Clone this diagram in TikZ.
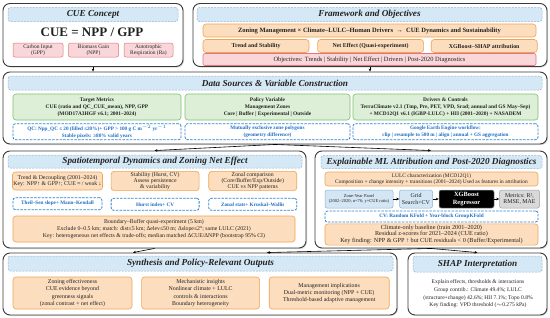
\documentclass[tikz,border=0pt]{standalone}
\usepackage{fontspec}
\setmainfont{Liberation Serif}
\usetikzlibrary{arrows.meta, positioning, shadows}

\definecolor{textdark}{HTML}{222222}
\definecolor{panelgray}{HTML}{3A3A3A}
\definecolor{titlefill}{HTML}{D5E8F5}
\definecolor{titleedge}{HTML}{8FB5D3}
\definecolor{pinkfill}{HTML}{F9D6D9}
\definecolor{pinkedge}{HTML}{E0767E}
\definecolor{orangefill}{HTML}{FCDDBD}
\definecolor{orangeedge}{HTML}{F0A456}
\definecolor{greenfill}{HTML}{DDEFD7}
\definecolor{greenedge}{HTML}{7DBF72}
\definecolor{qcedge}{HTML}{2F80D0}
\definecolor{qctext}{HTML}{1F6FC5}
\definecolor{zyfill}{HTML}{D4E6F4}
\definecolor{zyedge}{HTML}{8AB4D8}
\definecolor{metfill}{HTML}{D9D9D9}
\definecolor{metedge}{HTML}{A0A0A0}

\begin{document}
\begin{tikzpicture}[
  x=1pt, y=-1pt,
  every node/.style={font=\fontsize{5.6}{6.6}\selectfont, align=center, inner sep=1pt, text=textdark},
  panel/.style={rectangle, draw=panelgray, line width=0.9pt, rounded corners=7pt, fill=white,
    drop shadow={shadow xshift=1pt, shadow yshift=-1pt, opacity=0.3, fill=black!50}},
  titlebar/.style={rectangle, draw=titleedge, dash pattern=on 2pt off 1.2pt, line width=0.5pt, fill=titlefill,
    rounded corners=2.5pt, font=\bfseries\itshape\fontsize{9.2}{10}\selectfont},
  pinkbox/.style={rectangle, draw=pinkedge, line width=0.5pt, fill=pinkfill, rounded corners=2pt,
    minimum height=14, font=\fontsize{5.5}{6}\selectfont},
  objbox/.style={rectangle, draw=pinkedge, line width=0.6pt, fill=pinkfill, rounded corners=2pt,
    font=\fontsize{6.4}{7}\selectfont},
  orangebox/.style={rectangle, draw=orangeedge, line width=0.6pt, fill=orangefill, rounded corners=3pt},
  boldtxt/.style={font=\bfseries\fontsize{5.9}{6.6}\selectfont},
  greenbox/.style={rectangle, draw=greenedge, line width=0.6pt, fill=greenfill, rounded corners=3pt,
    minimum height=26, font=\bfseries\fontsize{5.4}{7}\selectfont},
  qcbox/.style={rectangle, draw=qcedge, dash pattern=on 2.5pt off 1.2pt, line width=0.8pt, fill=white,
    rounded corners=2.5pt, text=qctext, font=\bfseries\fontsize{5.2}{7}\selectfont},
  panelbox/.style={rectangle, draw=zyedge, line width=0.5pt, fill=zyfill, rounded corners=2pt, minimum height=18},
  xgbbox/.style={rectangle, draw=metedge, line width=0.5pt, fill=black, rounded corners=2pt, minimum height=18,
    text=white, font=\bfseries\fontsize{6.4}{7.4}\selectfont},
  metricbox/.style={rectangle, draw=metedge, line width=0.5pt, fill=metfill, rounded corners=2pt, minimum height=18,
    font=\fontsize{5.9}{6.8}\selectfont},
  arrow/.style={-{Stealth[length=3pt, width=2.6pt]}, line width=0.6pt}
]
\useasboundingbox (0,0) rectangle (550,317);

% CUE concept
\node[panel, minimum width=180, minimum height=63] (cue) at (93,35) {};
\node[titlebar, minimum width=170, minimum height=14] (cuetitle) at (93,14.5) {CUE Concept};
\node[font=\bfseries\fontsize{13}{14}\selectfont] (cueeq) at (92,32.5) {CUE = NPP / GPP};
\node[pinkbox, minimum width=50] (gpp) at (38,50) {Carbon Input\\(GPP)};
\node[pinkbox, minimum width=50, right=5pt of gpp] (npp) {Biomass Gain\\(NPP)};
\node[pinkbox, minimum width=49, right=5pt of npp] (ra) {Autotrophic\\Respiration (Ra)};

% Framework and objectives
\node[panel, minimum width=354, minimum height=63] (fw) at (370,35) {};
\node[titlebar, minimum width=345, minimum height=14] (fwtitle) at (369.5,14.5) {Framework and Objectives};
\node[orangebox, font=\bfseries\fontsize{6.5}{7}\selectfont, minimum width=333, minimum height=13] (fwmain) at (369.5,30.5)
  {Zoning Management × Climate–LULC–Human Drivers \ → \ CUE Dynamics and Sustainability};
\node[orangebox, boldtxt, minimum width=106, minimum height=13] (trendobj) at (256,46) {Trend and Stability};
\node[orangebox, boldtxt, minimum width=106, minimum height=13, right=8pt of trendobj] (netobj) {Net Effect (Quasi-experiment)};
\node[orangebox, boldtxt, minimum width=106, minimum height=13, right=7pt of netobj] (xaiobj) {XGBoost–SHAP attribution};
\node[objbox, minimum width=333, minimum height=12] (objs) at (369.5,59.5)
  {Objectives: Trends | Stability | Net Effect | Drivers | Post-2020 Diagnostics};

% Data sources
\node[panel, minimum width=544, minimum height=72] (data) at (275,108) {};
\node[titlebar, minimum width=534, minimum height=14] (datatitle) at (275,83) {Data Sources \& Variable Construction};
\node[greenbox, minimum width=168] (target) at (97,107)
  {Target Metrics\\CUE (ratio and QC\_CUE\_mean), NPP, GPP\\(MOD17A3HGF v6.1; 2001–2024)};
\node[greenbox, minimum width=165] (policy) at (267.5,107)
  {Policy Variable\\Management Zones\\Core | Buffer | Experimental | Outside};
\node[greenbox, minimum width=185] (drivers) at (445.5,107)
  {Drivers \& Controls\\TerraClimate v2.1 (Tmp, Pre, PET, VPD, Srad; annual and GS May–Sep)\\+ MCD12Q1 v6.1 (IGBP-LULC) + HII (2001–2020) + NASADEM};
\node[qcbox, minimum width=168, minimum height=16, below=3pt of target] (qc)
  {QC: Npp\_QC ≤ 20 (filled ≤20\%)+ GPP > 100 g C m$^{-2}$ yr$^{-1}$\\Stable pixels: ≥80\% valid years};
\node[qcbox, minimum width=165, minimum height=16, below=3pt of policy] (zonepoly)
  {Mutually exclusive zone polygons\\(geometry difference)};
\node[qcbox, minimum width=185, minimum height=16, below=3pt of drivers] (gee)
  {Google Earth Engine workflow:\\clip | resample to 500 m | align | annual + GS aggregation};

% Spatiotemporal dynamics
\node[panel, minimum width=303, minimum height=97] (st) at (154.5,199.5) {};
\node[titlebar, minimum width=294, minimum height=13] (sttitle) at (155,161.5) {Spatiotemporal Dynamics and Zoning Net Effect};
\node[orangebox, font=\fontsize{5.8}{6}\selectfont, minimum width=89, minimum height=18] (trend) at (57.5,181)
  {Trend \& Decoupling (2001–2024)\\Key: NPP↑ \& GPP↑; CUE ≈ / weak ↓};
\node[orangebox, font=\fontsize{5.8}{6}\selectfont, minimum width=88, minimum height=18, right=8pt of trend] (stab)
  {Stability (Hurst, CV)\\Assess persistence\\\& variability};
\node[orangebox, font=\fontsize{5.8}{6}\selectfont, minimum width=88, minimum height=18, right=9pt of stab] (zonal)
  {Zonal comparison\\(Core/Buffer/Exp/Outside)\\CUE vs NPP patterns};
\node[qcbox, minimum width=89, minimum height=12, below=7pt of trend] (theil) {Theil–Sen slope+ Mann–Kendall};
\node[qcbox, minimum width=88, minimum height=12, below=7pt of stab] (hurst) {Hurst index+ CV};
\node[qcbox, minimum width=88, minimum height=12, below=7pt of zonal] (kw) {Zonal stats+ Kruskal–Wallis};
\node[orangebox, font=\fontsize{5.8}{7}\selectfont, minimum width=282, minimum height=26] (quasi) at (154,229)
  {Boundary–Buffer quasi-experiment (5 km)\\Exclude 0–0.5 km; match: dist≤5 km; Δelev≤50 m; Δslope≤2°; same LULC (2021)\\Key: heterogeneous net effects \& trade-offs; median matched ΔCUE/ΔNPP (bootstrap 95\% CI)};

% Explainable ML attribution
\node[panel, minimum width=232, minimum height=97] (xai) at (431,199.5) {};
\node[titlebar, minimum width=221, minimum height=13] (xaititle) at (431.5,162) {Explainable ML Attribution and Post-2020 Diagnostics};
\node[orangebox, font=\fontsize{5.4}{6}\selectfont, minimum width=213, minimum height=14] (lulc) at (431.5,179)
  {LULC characterization (MCD12Q1)\\Composition + change intensity + transitions (2001–2024) Used as features in attribution};
\node[panelbox, font=\fontsize{4.5}{5.4}\selectfont, minimum width=68] (zypanel) at (359,199)
  {Zone-Year Panel\\(2002–2020; n=76; y=CUE ratio)};
\node[panelbox, font=\fontsize{6}{7}\selectfont, minimum width=33, right=6pt of zypanel] (grid) {Grid\\Search+CV};
\node[xgbbox, minimum width=55, right=6pt of grid] (xgb) {XGBoost\\Regressor};
\node[metricbox, minimum width=40, right=5pt of xgb] (metrics) {Metrics: R²,\\RMSE, MAE};
\node[qcbox, minimum width=213, minimum height=11] (cv) at (431.5,216.5) {CV: Random KFold + Year-block GroupKFold};
\node[orangebox, font=\fontsize{6.2}{6.8}\selectfont, minimum width=213, minimum height=21] (resid) at (431.5,234.5)
  {Climate-only baseline (train 2001–2020)\\Residual z-scores for 2021–2024 (CUE ratio)\\Key finding: NPP \& GPP ↑ but CUE residuals < 0 (Buffer/Experimental)};

% Synthesis
\node[panel, minimum width=394, minimum height=62] (syn) at (200,284) {};
\node[titlebar, minimum width=385, minimum height=15] (syntitle) at (200.5,263.5) {Synthesis and Policy-Relevant Outputs};
\node[orangebox, font=\fontsize{5.9}{7.3}\selectfont, minimum width=119, minimum height=32] (effect) at (72.5,293)
  {Zoning effectiveness\\CUE evidence beyond\\greenness signals\\(zonal contrast + net effect)};
\node[orangebox, font=\fontsize{5.9}{7.3}\selectfont, minimum width=118, minimum height=32, right=9pt of effect] (mech)
  {Mechanistic insights\\Nonlinear climate + LULC\\controls \& interactions\\Boundary heterogeneity};
\node[orangebox, font=\fontsize{5.9}{7.3}\selectfont, minimum width=120, minimum height=32, right=9pt of mech] (mgmt)
  {Management implications\\Dual-metric monitoring (NPP + CUE)\\Threshold-based adaptive management};

% SHAP interpretation
\node[panel, minimum width=139, minimum height=62] (shap) at (477.5,284) {};
\node[titlebar, minimum width=129, minimum height=16] (shaptitle) at (477.5,264) {SHAP Interpretation};
\node[font=\fontsize{5.6}{7.6}\selectfont] (shaptext) at (478,294)
  {Explain effects, thresholds \& interactions\\Group contrib.: Climate 49.4\%; LULC\\(structure+change) 42.6\%; HII 7.1\%; Topo 0.8\%\\Key finding: VPD threshold ($\sim$0.275 kPa)};

% Arrows
\draw[arrow] (cue.south) -- (cue.south |- data.north);
\draw[arrow] (fw.south) -- (fw.south |- data.north);
\draw[arrow] (data.south) -- (st.north);
\draw[arrow] (data.south) -- (xai.north);
\draw[arrow] (st.south) -- ([xshift=-67pt]syn.north);
\draw[arrow] (xai.south) -- ([xshift=67pt]syn.north);
\draw[arrow] (xai.south) -- (shap.north);
\draw[arrow, line width=0.5pt] (zypanel) -- (grid);
\draw[arrow, line width=0.5pt] (grid) -- (xgb);
\draw[arrow, line width=0.5pt] (xgb) -- (metrics);

\end{tikzpicture}
\end{document}
